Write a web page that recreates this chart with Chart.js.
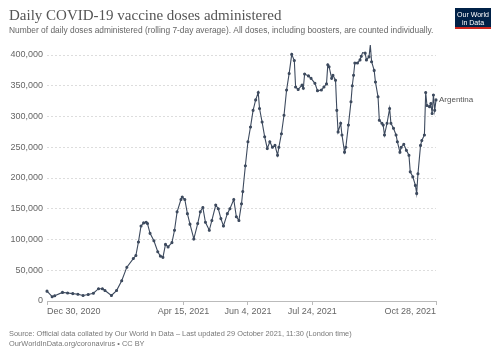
<!DOCTYPE html>
<html>
<head>
<meta charset="utf-8">
<script src="https://cdn.jsdelivr.net/npm/chart.js@4"></script>
<style>
  html, body { margin: 0; padding: 0; background: #fff; }
  #grafico { display: block; }
</style>
</head>
<body>
<canvas id="grafico" width="500" height="353"></canvas>
<script>
// days since Dec 30, 2020
const days = [
  0, 4, 6, 12, 16, 20, 24, 28, 32, 36,
  40, 43, 45, 50, 54, 58, 62, 67, 69, 71,
  73, 75, 77, 78, 80, 83, 86, 88, 90, 92,
  94, 97, 99, 101, 104, 105, 107, 109, 111, 114,
  117, 119, 121, 123, 126, 128, 131, 133, 135, 137,
  140, 142, 145, 147, 149, 151, 152, 154, 156, 158,
  160, 162, 164, 165, 167, 169, 171, 173, 175, 177,
  179, 180, 182, 184, 186, 188, 190, 192, 193, 195,
  198, 199, 200, 203, 205, 208, 210, 213, 215, 217,
  218, 219, 221, 222, 224, 225, 226, 228, 229, 231,
  232, 234, 236, 237, 238, 239, 241, 243, 244, 245,
  247, 248, 250, 251, 252, 254, 255, 257, 258, 260,
  261, 262, 264, 266, 267, 269, 271, 272, 274, 275,
  277, 279, 281, 282, 284, 286, 287, 288, 290, 291,
  293, 294, 295, 297, 298, 299, 300, 301, 302
];

// Argentina, daily doses (7-day avg)
const doses = [
  16000, 7000, 8500, 14000, 13000, 12000, 11000, 9000, 10500, 12700,
  20000, 20000, 17000, 9000, 17000, 33000, 55000, 69000, 74000, 96000,
  122000, 127000, 128000, 126000, 110000, 98000, 80000, 73000, 71000, 92000,
  88000, 95000, 115000, 145000, 165000, 169000, 165000, 142000, 125000, 101000,
  126000, 145000, 152000, 128000, 115000, 131000, 156000, 150000, 134000, 122000,
  142000, 150000, 165000, 137000, 131000, 158000, 178000, 220000, 259000, 283000,
  310000, 327000, 339000, 313000, 291000, 267000, 248000, 259000, 250000, 253000,
  237000, 250000, 272000, 302000, 343000, 370000, 401000, 391000, 348000, 344000,
  351000, 346000, 369000, 366000, 362000, 354000, 342000, 343000, 348000, 353000,
  384000, 381000, 362000, 367000, 359000, 310000, 275000, 289000, 270000, 242000,
  250000, 286000, 324000, 350000, 367000, 387000, 387000, 392000, 398000, 404000,
  403000, 392000, 397000, 416000, 389000, 375000, 356000, 332000, 294000, 289000,
  286000, 270000, 289000, 313000, 289000, 281000, 270000, 259000, 242000, 250000,
  255000, 245000, 237000, 210000, 202000, 188000, 175000, 207000, 253000, 261000,
  270000, 339000, 318000, 316000, 321000, 305000, 335000, 310000, 327000
];

const tickDays = [0, 106, 156, 206, 302];
const tickLabels = ['Dec 30, 2020', 'Apr 15, 2021', 'Jun 4, 2021', 'Jul 24, 2021', 'Oct 28, 2021'];
const seriesName = 'Argentina';

const LINE = '#3d4a5e';

// textos fora do grafico (titulo, logo, rodape, rotulo da serie)
const textos = {
  id: 'textos',
  afterDraw(chart) {
    const c = chart.ctx;
    c.save();
    c.textBaseline = 'alphabetic';
    c.textAlign = 'left';
    c.fillStyle = '#555';
    c.font = '15px "Liberation Serif"';
    c.fillText('Daily COVID-19 vaccine doses administered', 9, 20);
    c.fillStyle = '#666';
    c.font = '8.4px "Liberation Sans"';
    c.fillText('Number of daily doses administered (rolling 7-day average). All doses, including boosters, are counted individually.', 9, 33);

    c.fillStyle = '#777';
    c.font = '7.4px "Liberation Sans"';
    c.fillText('Source: Official data collated by Our World in Data \u2013 Last updated 29 October 2021, 11:30 (London time)', 9, 336);
    c.fillText('OurWorldInData.org/coronavirus \u2022 CC BY', 9, 346);

    // logo
    c.fillStyle = '#002147';
    c.fillRect(455, 8, 36, 21);
    c.fillStyle = '#ce261e';
    c.fillRect(455, 27, 36, 2);
    c.fillStyle = '#fff';
    c.textAlign = 'center';
    c.font = '7px "Liberation Sans"';
    c.fillText('Our World', 473, 17);
    c.fillText('in Data', 473, 24.5);

    // rotulo da serie
    const xs = chart.scales.x, ys = chart.scales.y;
    const last = doses.length - 1;
    c.textAlign = 'left';
    c.textBaseline = 'middle';
    c.fillStyle = '#555';
    c.font = '8px "Liberation Sans"';
    c.fillText(seriesName, xs.getPixelForValue(days[last]) + 3, ys.getPixelForValue(doses[last]));
    c.restore();
  }
};

const ctx = document.getElementById('grafico').getContext('2d');

const grafico = new Chart(ctx, {
  type: 'line',
  data: {
    datasets: [{
      label: seriesName,
      data: days.map((d, i) => ({ x: d, y: doses[i] })),
      borderColor: LINE,
      backgroundColor: LINE,
      borderWidth: 1.1,
      pointRadius: 1,
      pointHoverRadius: 1,
      tension: 0,
      clip: false
    }]
  },
  options: {
    responsive: false,
    animation: false,
    events: [],
    layout: { padding: { left: 0, right: 64, top: 55, bottom: 0 } },
    plugins: {
      legend: { display: false },
      tooltip: { enabled: false }
    },
    scales: {
      x: {
        type: 'linear',
        min: 0,
        max: 302,
        afterBuildTicks: (s) => { s.ticks = tickDays.map(v => ({ value: v })); },
        afterFit: (s) => { s.height = 52; },
        ticks: {
          align: 'inner',
          maxRotation: 0,
          autoSkip: false,
          padding: 1,
          color: '#666',
          font: { family: 'Liberation Sans', size: 9 },
          callback: (v) => tickLabels[tickDays.indexOf(v)]
        },
        grid: {
          drawOnChartArea: false,
          drawTicks: true,
          tickLength: 4,
          color: '#bbb'
        },
        border: { display: true, color: '#bbb', width: 1 }
      },
      y: {
        min: 0,
        max: 400000,
        afterFit: (s) => { s.width = 47; },
        ticks: {
          stepSize: 50000,
          padding: 4,
          color: '#666',
          font: { family: 'Liberation Sans', size: 9 },
          callback: (v) => v.toLocaleString('en-US')
        },
        grid: {
          drawTicks: false,
          color: '#ddd',
          lineWidth: 1
        },
        border: { display: false, dash: [2, 2] }
      }
    }
  },
  plugins: [textos]
});
</script>
</body>
</html>
